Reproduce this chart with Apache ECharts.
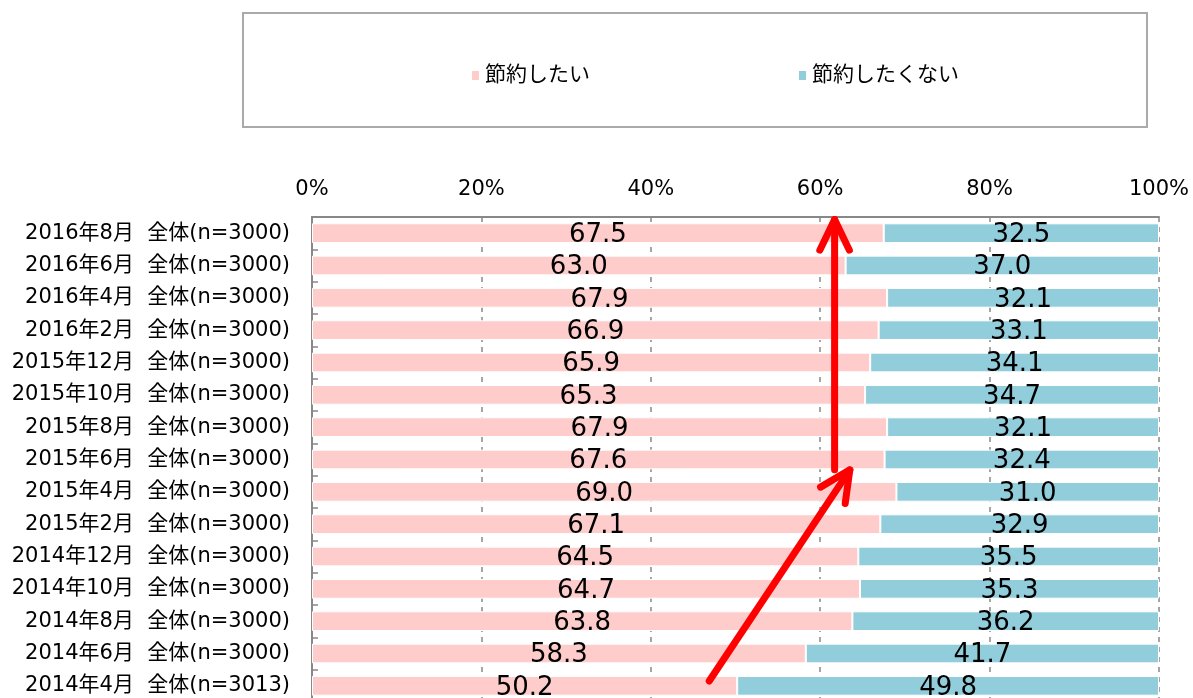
<!DOCTYPE html>
<html><head><meta charset="utf-8">
<script src="https://cdn.jsdelivr.net/npm/echarts@6/dist/echarts.min.js"></script>
<style>html,body{margin:0;padding:0;background:#fff}#c{width:1193px;height:698px}</style>
</head><body><div id="c"></div>
<script>
const categories = [
  '2016年8月  全体(n=3000)','2016年6月  全体(n=3000)','2016年4月  全体(n=3000)','2016年2月  全体(n=3000)',
  '2015年12月  全体(n=3000)','2015年10月  全体(n=3000)','2015年8月  全体(n=3000)','2015年6月  全体(n=3000)',
  '2015年4月  全体(n=3000)','2015年2月  全体(n=3000)','2014年12月  全体(n=3000)','2014年10月  全体(n=3000)',
  '2014年8月  全体(n=3000)','2014年6月  全体(n=3000)','2014年4月  全体(n=3013)'
];
const wantSave = [67.5,63.0,67.9,66.9,65.9,65.3,67.9,67.6,69.0,67.1,64.5,64.7,63.8,58.3,50.2];
const noSave   = [32.5,37.0,32.1,33.1,34.1,34.7,32.1,32.4,31.0,32.9,35.5,35.3,36.2,41.7,49.8];
const seriesNames = ['節約したい','節約したくない'];
// arrows: [x1(%), categoryIndex1, x2(%), categoryIndex2]
const arrows = [
  [46.9, 13.85, 63.5, 7.32],
  [61.7, 7.32, 61.7, -0.42]
];

const FONT = "'DejaVu Sans','Noto Sans CJK JP',sans-serif";
const chart = echarts.init(document.getElementById('c'));
const labelCfg = {show:true, position:'inside', color:'#000', fontSize:26, fontFamily:FONT,
  offset:[0,2], formatter: p => p.value.toFixed(1)};
const box = {type:'rect', shape:{x:243, y:13, width:904, height:114},
    style:{fill:'none', stroke:'#aaa', lineWidth:2}, z:-1};
chart.setOption({
  animation:false,
  textStyle:{fontFamily:FONT},
  legend:{left:465, top:60, itemWidth:9, itemHeight:11, itemGap:207, icon:'rect',
    textStyle:{fontSize:21, color:'#000', fontFamily:FONT}, data:seriesNames},
  grid:{left:312, right:34, top:217, height:485, containLabel:false, outerBoundsMode:'none'},
  xAxis:{type:'value', min:0, max:100, interval:20, position:'top',
    axisLine:{show:true, lineStyle:{color:'#888', width:2}},
    axisTick:{show:false},
    axisLabel:{formatter:'{value}%', fontSize:21, color:'#000', margin:17, fontFamily:FONT},
    splitLine:{show:true, lineStyle:{color:'#888', type:[5,5], width:1.5}}},
  yAxis:{type:'category', inverse:true, data:categories,
    axisLine:{show:true, lineStyle:{color:'#888', width:2}},
    axisTick:{show:true, inside:true, length:6, lineStyle:{color:'#888', width:1.5}},
    axisLabel:{fontSize:21, color:'#000', margin:22, fontFamily:FONT}},
  graphic:[box],
  series:[
    {name:seriesNames[0], type:'bar', stack:'a', barWidth:'61%', data:wantSave,
     itemStyle:{color:'#FFCCCC', borderColor:'#fff', borderWidth:1}, label:labelCfg},
    {name:seriesNames[1], type:'bar', stack:'a', barWidth:'61%', data:noSave,
     itemStyle:{color:'#92CDDC', borderColor:'#fff', borderWidth:1}, label:labelCfg}
  ]
});

function px(x, idx){
  const p0 = chart.convertToPixel({gridIndex:0}, [x, 0]);
  const p1 = chart.convertToPixel({gridIndex:0}, [x, 1]);
  const step = p1[1] - p0[1];
  return [p0[0], p0[1] + idx*step];
}
const g = [];
arrows.forEach(a => {
  const s = px(a[0], a[1]), e = px(a[2], a[3]);
  const ang = Math.atan2(e[1]-s[1], e[0]-s[0]);
  const L = 34, h = 0.45;
  const l1 = [e[0] - L*Math.cos(ang - h), e[1] - L*Math.sin(ang - h)];
  const l2 = [e[0] - L*Math.cos(ang + h), e[1] - L*Math.sin(ang + h)];
  const st = {stroke:'#FF0000', lineWidth:7, lineCap:'round', lineJoin:'round', fill:'none'};
  g.push({type:'polyline', shape:{points:[s, e]}, style:st, z:100});
  g.push({type:'polyline', shape:{points:[l1, e, l2]}, style:st, z:100});
});
chart.setOption({graphic:[box].concat(g)});
</script></body></html>
